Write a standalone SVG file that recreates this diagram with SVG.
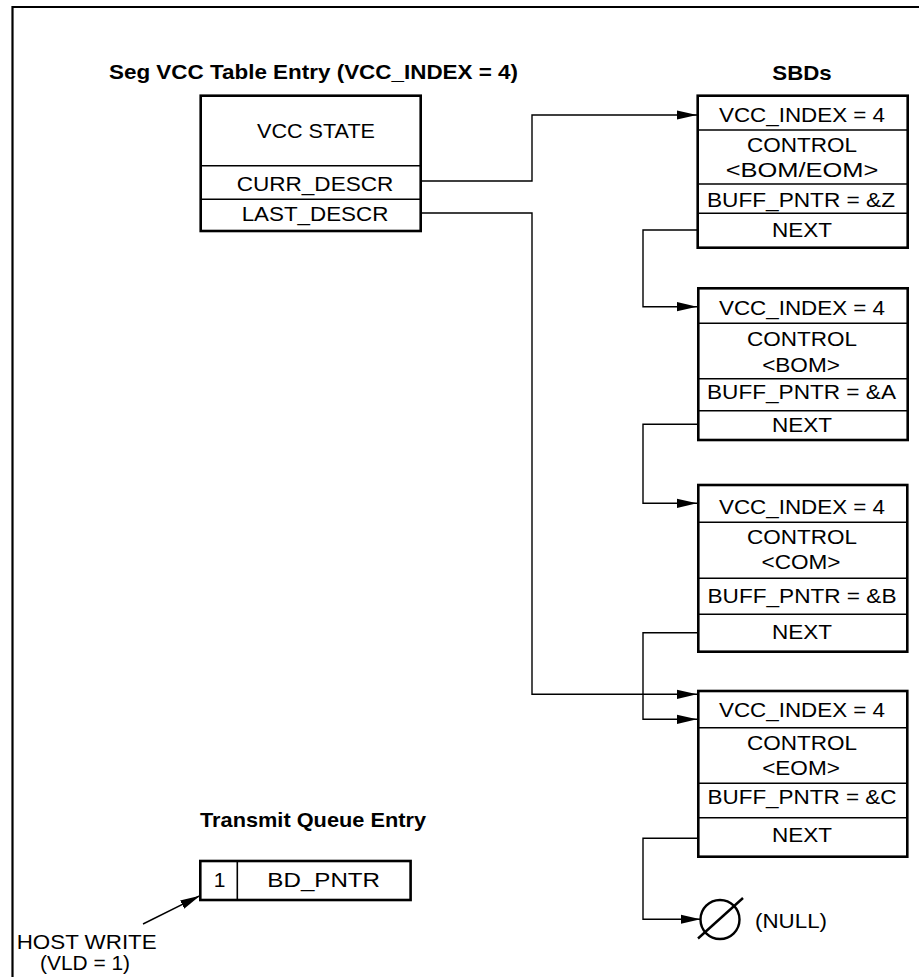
<svg xmlns="http://www.w3.org/2000/svg" width="919" height="977" viewBox="0 0 919 977">
<defs>
<style>
text{font-family:"Liberation Sans",Arial,sans-serif;font-size:21px;fill:#000;text-anchor:middle}
.b{font-weight:bold}
.box{fill:#fff;stroke:#000;stroke-width:2.6}
.div{stroke:#000;stroke-width:1.6;fill:none}
.con{stroke:#000;stroke-width:1.4;fill:none}
.frame{stroke:#000;stroke-width:2.2;fill:none}
</style>
<marker id="ah" markerUnits="userSpaceOnUse" markerWidth="20" markerHeight="10" refX="20" refY="5" orient="auto">
<path d="M0,0.4 L20,5 L0,9.6 z" fill="#000"/>
</marker>
</defs>
<rect width="919" height="977" fill="#fff"/>
<path class="frame" d="M12.5,977 V7 H919"/>

<g id="seg-vcc">
<text class="b" x="313.5" y="79" textLength="409" lengthAdjust="spacingAndGlyphs">Seg VCC Table Entry (VCC_INDEX = 4)</text>
<rect class="box" x="200.7" y="95.7" width="220" height="135.3"/>
<line class="div" x1="200.7" y1="165.7" x2="420.7" y2="165.7"/>
<line class="div" x1="200.7" y1="199.3" x2="420.7" y2="199.3"/>
<text x="316" y="137.5" textLength="118" lengthAdjust="spacingAndGlyphs">VCC STATE</text>
<text x="315" y="190.5" textLength="156.7" lengthAdjust="spacingAndGlyphs">CURR_DESCR</text>
<text x="315" y="221" textLength="146.7" lengthAdjust="spacingAndGlyphs">LAST_DESCR</text>
</g>

<g id="sbds-title">
<text class="b" x="802" y="80" textLength="59.4" lengthAdjust="spacingAndGlyphs">SBDs</text>
</g>

<g id="sbd1">
<rect class="box" x="697.7" y="95.7" width="210" height="152"/>
<line class="div" x1="697.7" y1="130" x2="907.7" y2="130"/>
<line class="div" x1="697.7" y1="184" x2="907.7" y2="184"/>
<line class="div" x1="697.7" y1="213.3" x2="907.7" y2="213.3"/>
<text x="802" y="122" textLength="166" lengthAdjust="spacingAndGlyphs">VCC_INDEX = 4</text>
<text x="802" y="152" textLength="110" lengthAdjust="spacingAndGlyphs">CONTROL</text>
<text x="802" y="176.5" textLength="152.7" lengthAdjust="spacingAndGlyphs">&lt;BOM/EOM&gt;</text>
<text x="801" y="207" textLength="188" lengthAdjust="spacingAndGlyphs">BUFF_PNTR = &amp;Z</text>
<text x="802" y="237" textLength="60" lengthAdjust="spacingAndGlyphs">NEXT</text>
</g>

<g id="sbd2">
<rect class="box" x="698.3" y="288.3" width="209.4" height="151.7"/>
<line class="div" x1="698.3" y1="323.3" x2="907.7" y2="323.3"/>
<line class="div" x1="698.3" y1="378.7" x2="907.7" y2="378.7"/>
<line class="div" x1="698.3" y1="410.7" x2="907.7" y2="410.7"/>
<text x="802" y="314.5" textLength="166" lengthAdjust="spacingAndGlyphs">VCC_INDEX = 4</text>
<text x="802" y="345.5" textLength="110" lengthAdjust="spacingAndGlyphs">CONTROL</text>
<text x="801" y="372" textLength="77.7" lengthAdjust="spacingAndGlyphs">&lt;BOM&gt;</text>
<text x="801.5" y="398.7" textLength="189" lengthAdjust="spacingAndGlyphs">BUFF_PNTR = &amp;A</text>
<text x="802" y="432" textLength="60" lengthAdjust="spacingAndGlyphs">NEXT</text>
</g>

<g id="sbd3">
<rect class="box" x="698.3" y="485" width="209" height="166.7"/>
<line class="div" x1="698.3" y1="522.3" x2="907.3" y2="522.3"/>
<line class="div" x1="698.3" y1="578.3" x2="907.3" y2="578.3"/>
<line class="div" x1="698.3" y1="614.3" x2="907.3" y2="614.3"/>
<text x="802" y="513.7" textLength="166" lengthAdjust="spacingAndGlyphs">VCC_INDEX = 4</text>
<text x="802" y="543.7" textLength="110" lengthAdjust="spacingAndGlyphs">CONTROL</text>
<text x="801" y="568.7" textLength="79" lengthAdjust="spacingAndGlyphs">&lt;COM&gt;</text>
<text x="802" y="602.7" textLength="189" lengthAdjust="spacingAndGlyphs">BUFF_PNTR = &amp;B</text>
<text x="802" y="638.7" textLength="60" lengthAdjust="spacingAndGlyphs">NEXT</text>
</g>

<g id="sbd4">
<rect class="box" x="698.3" y="691" width="209" height="165.7"/>
<line class="div" x1="698.3" y1="727.7" x2="907.3" y2="727.7"/>
<line class="div" x1="698.3" y1="783.3" x2="907.3" y2="783.3"/>
<line class="div" x1="698.3" y1="817.7" x2="907.3" y2="817.7"/>
<text x="802" y="717" textLength="166" lengthAdjust="spacingAndGlyphs">VCC_INDEX = 4</text>
<text x="802" y="749.7" textLength="110" lengthAdjust="spacingAndGlyphs">CONTROL</text>
<text x="801" y="775.4" textLength="77.7" lengthAdjust="spacingAndGlyphs">&lt;EOM&gt;</text>
<text x="802" y="804.4" textLength="189" lengthAdjust="spacingAndGlyphs">BUFF_PNTR = &amp;C</text>
<text x="802" y="842.4" textLength="60" lengthAdjust="spacingAndGlyphs">NEXT</text>
</g>

<g id="null">
<circle cx="720" cy="919.5" r="19.5" fill="none" stroke="#000" stroke-width="2.4"/>
<line x1="698" y1="938.5" x2="743" y2="898" stroke="#000" stroke-width="2.4"/>
<text x="791" y="928" textLength="72" lengthAdjust="spacingAndGlyphs">(NULL)</text>
</g>

<g id="transmit-queue">
<text class="b" x="313" y="827" textLength="226" lengthAdjust="spacingAndGlyphs">Transmit Queue Entry</text>
<rect class="box" x="200.3" y="861" width="210.3" height="39"/>
<line class="div" x1="237.3" y1="861" x2="237.3" y2="900"/>
<text x="219.5" y="887">1</text>
<text x="323.7" y="887" textLength="112.7" lengthAdjust="spacingAndGlyphs">BD_PNTR</text>
</g>

<g id="host-write">
<text x="86.7" y="948.5" textLength="140" lengthAdjust="spacingAndGlyphs">HOST WRITE</text>
<text x="85" y="970.3" textLength="90" lengthAdjust="spacingAndGlyphs">(VLD = 1)</text>
</g>

<g id="connectors">
<polyline class="con" points="421,181 532,181 532,115 697,115" marker-end="url(#ah)"/>
<polyline class="con" points="421,213 532,213 532,694.3 697,694.3" marker-end="url(#ah)"/>
<polyline class="con" points="697,230 643,230 643,306.7 697,306.7" marker-end="url(#ah)"/>
<polyline class="con" points="697,424.3 643,424.3 643,503.3 697,503.3" marker-end="url(#ah)"/>
<polyline class="con" points="697,632.7 643,632.7 643,719.3 697,719.3" marker-end="url(#ah)"/>
<polyline class="con" points="697,838.3 643,838.3 643,919.3 700.5,919.3" marker-end="url(#ah)"/>
<line class="con" x1="143" y1="924" x2="200" y2="895.7" marker-end="url(#ah)"/>
</g>
</svg>
